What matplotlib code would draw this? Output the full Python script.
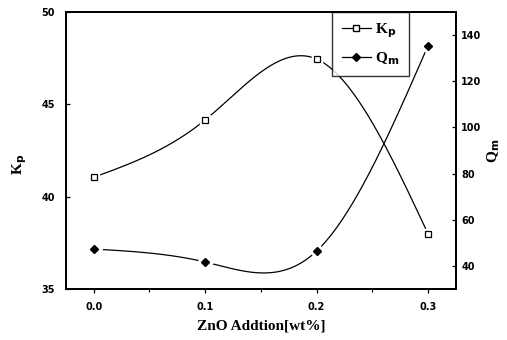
import numpy as np
import matplotlib
matplotlib.use("Agg")
import matplotlib.pyplot as plt
from matplotlib.lines import Line2D

# data
zno = [0.0, 0.1, 0.2, 0.3]
kp = [41.05, 44.15, 47.45, 38.0]
qm = [47.3, 41.7, 46.4, 135.3]
xticks = [0.0, 0.1, 0.2, 0.3]
kp_ticks = [35, 40, 45, 50]
qm_ticks = [40, 60, 80, 100, 120, 140]


def natural_spline(x, y, n=200):
    # natural cubic spline, like Origin's "spline" connect
    x = np.asarray(x, float)
    y = np.asarray(y, float)
    h = np.diff(x)
    k = len(x)
    A = np.zeros((k, k))
    b = np.zeros(k)
    A[0, 0] = A[-1, -1] = 1
    for i in range(1, k - 1):
        A[i, i - 1] = h[i - 1]
        A[i, i] = 2 * (h[i - 1] + h[i])
        A[i, i + 1] = h[i]
        b[i] = 6 * ((y[i + 1] - y[i]) / h[i] - (y[i] - y[i - 1]) / h[i - 1])
    M = np.linalg.solve(A, b)
    xs = np.linspace(x[0], x[-1], n)
    idx = np.clip(np.searchsorted(x, xs) - 1, 0, k - 2)
    x0, x1 = x[idx], x[idx + 1]
    hh = x1 - x0
    t0, t1 = x1 - xs, xs - x0
    ys = (M[idx] * t0 ** 3 + M[idx + 1] * t1 ** 3) / (6 * hh) \
        + (y[idx] / hh - M[idx] * hh / 6) * t0 \
        + (y[idx + 1] / hh - M[idx + 1] * hh / 6) * t1
    return xs, ys


fig = plt.figure(figsize=(5.07, 3.40), dpi=100)
ax = fig.add_axes([0.130, 0.150, 0.769, 0.815])
ax2 = ax.twinx()

tick_font = dict(family="DejaVu Sans", weight="bold", size=7)

# K_p on left axis
xs, ys = natural_spline(zno, kp)
ax.plot(xs, ys, color="black", lw=0.9, zorder=2)
ax.plot(zno, kp, ls="none", marker="s", ms=7, mfc="white", mec="white", zorder=3)
ax.plot(zno, kp, ls="none", marker="s", ms=4, mfc="white", mec="black", mew=0.9, zorder=4)

# Q_m on right axis
xs, ys = natural_spline(zno, qm)
ax2.plot(xs, ys, color="black", lw=0.9, zorder=2)
ax2.plot(zno, qm, ls="none", marker="D", ms=8, mfc="white", mec="white", zorder=3)
ax2.plot(zno, qm, ls="none", marker="D", ms=4.5, mfc="black", mec="black", zorder=4)

ax.set_xlim(-0.025, 0.325)
ax.set_ylim(35, 50)
ax2.set_ylim(30, 150)
ax.set_xticks(xticks)
ax.set_xticklabels([f"{v:.1f}" for v in xticks], fontdict=tick_font)
ax.set_xticks([0.05, 0.15, 0.25], minor=True)
ax.set_yticks(kp_ticks)
ax.set_yticklabels([str(v) for v in kp_ticks], fontdict=tick_font)
ax2.set_yticks(qm_ticks)
ax2.set_yticklabels([str(v) for v in qm_ticks], fontdict=tick_font)

ax.tick_params(axis="x", which="major", direction="out", length=3, width=0.9, pad=6)
ax.tick_params(axis="x", which="minor", direction="out", length=2, width=0.8)
ax.tick_params(axis="y", direction="in", length=3, width=0.9, pad=8)
ax2.tick_params(axis="y", direction="in", length=3, width=0.9, pad=4)

for a in (ax, ax2):
    for s in a.spines.values():
        s.set_linewidth(1.3)

label_font = dict(family="Liberation Serif", weight="bold", size=11)
ax.set_xlabel("ZnO Addtion[wt%]", fontdict=label_font, labelpad=6)
ax.set_ylabel(r"K$_\mathbf{p}$", fontdict=label_font, labelpad=10)
ax2.set_ylabel(r"Q$_\mathbf{m}$", fontdict=label_font, labelpad=3)
ax.yaxis.set_label_coords(-0.095, 0.45)

handles = [
    Line2D([], [], color="black", lw=0.9, marker="s", ms=4, mfc="white", mec="black"),
    Line2D([], [], color="black", lw=0.9, marker="D", ms=4.5, mfc="black", mec="black"),
]
leg = ax.legend(handles, [r"K$_\mathbf{p}$", r"Q$_\mathbf{m}$"],
                loc="upper right", bbox_to_anchor=(0.879, 1.0),
                borderaxespad=0,
                prop=dict(family="Liberation Serif", weight="bold", size=11),
                frameon=True, fancybox=False, edgecolor="black",
                handlelength=1.9, borderpad=0.6, labelspacing=0.7,
                handletextpad=0.3)
leg.get_frame().set_linewidth(1.0)
leg.set_zorder(10)

fig.savefig("out.png", dpi=100)
